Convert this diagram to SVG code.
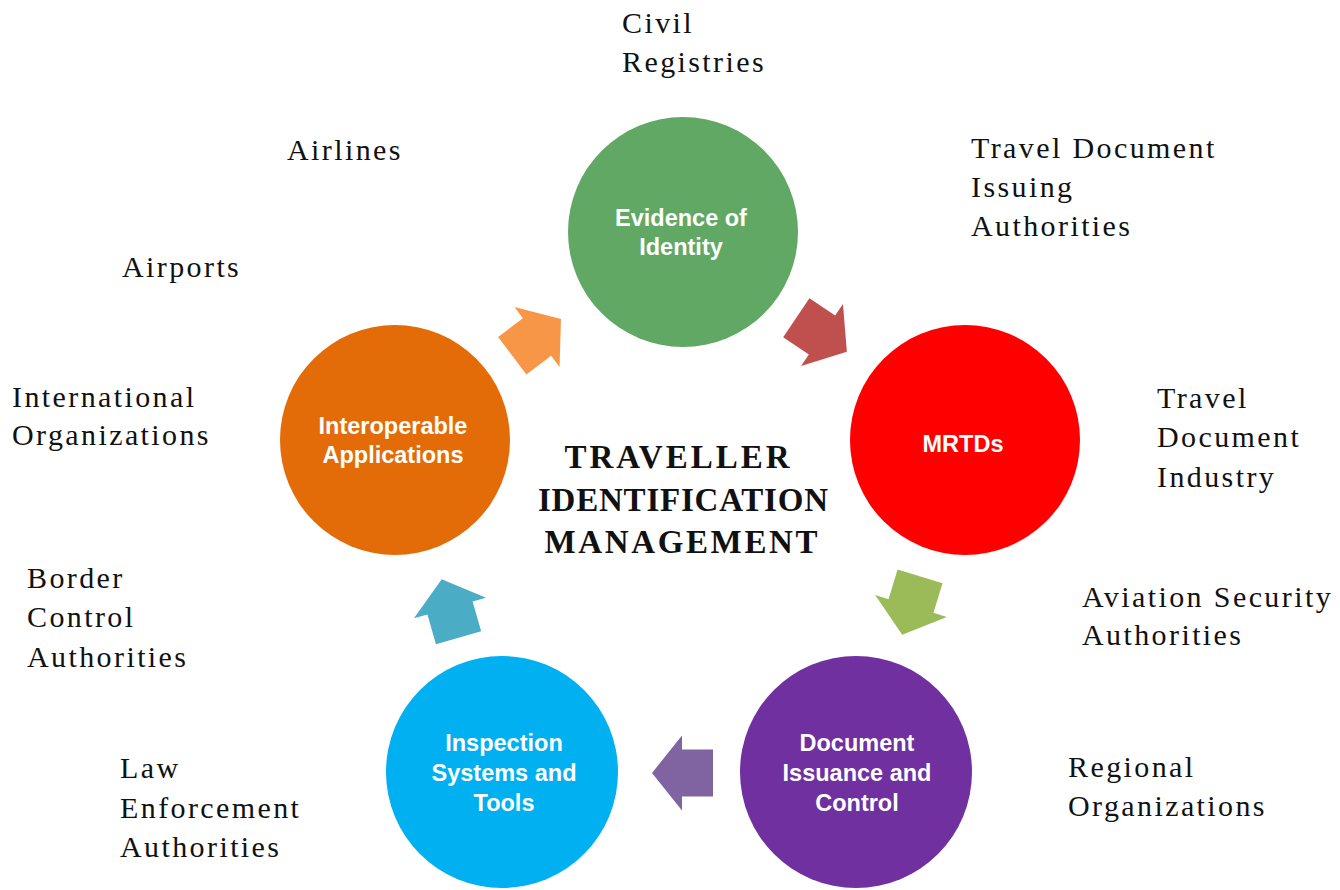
<svg xmlns="http://www.w3.org/2000/svg" width="1340" height="890" viewBox="0 0 1340 890">
<style>
.lbl{font-family:"Liberation Serif","Times New Roman",serif;font-size:30px;letter-spacing:2.4px;fill:#111}
.ct{font-family:"Liberation Sans",Arial,sans-serif;font-size:23.5px;font-weight:bold;fill:#fff;text-anchor:middle}
.title{font-family:"Liberation Serif","Times New Roman",serif;font-size:33px;font-weight:bold;fill:#111;text-anchor:middle}
</style>
<defs>
<path id="arr" d="M30,0 L0,-37.5 L0,-23.5 L-31,-23.5 L-31,23.5 L0,23.5 L0,37.5 Z"/>
</defs>
<rect width="1340" height="890" fill="#fff"/>
<g id="connectors">
<use href="#arr" fill="#F79646" transform="translate(537,337) rotate(-37)"/>
<use href="#arr" fill="#C0504D" transform="translate(822,335) rotate(34)"/>
<use href="#arr" fill="#9BBB59" transform="translate(911,606) rotate(107)"/>
<use href="#arr" fill="#8064A2" transform="translate(682,773) rotate(180)"/>
<use href="#arr" fill="#4BACC6" transform="translate(450,608) rotate(-106)"/>
</g>
<g id="evidence">
<circle cx="683" cy="232" r="115" fill="#62A865"/>
<text class="ct" x="681" y="226">Evidence of</text>
<text class="ct" x="681" y="255">Identity</text>
</g>
<g id="mrtds">
<circle cx="965" cy="440" r="115" fill="#FF0000"/>
<text class="ct" x="963" y="452">MRTDs</text>
</g>
<g id="issuance">
<circle cx="856" cy="772" r="116" fill="#7030A0"/>
<text class="ct" x="857" y="751">Document</text>
<text class="ct" x="857" y="781">Issuance and</text>
<text class="ct" x="857" y="811">Control</text>
</g>
<g id="inspection">
<circle cx="502" cy="772" r="116" fill="#00B0F0"/>
<text class="ct" x="504" y="751">Inspection</text>
<text class="ct" x="504" y="781">Systems and</text>
<text class="ct" x="504" y="811">Tools</text>
</g>
<g id="interop">
<circle cx="395" cy="440" r="115" fill="#E36C09"/>
<text class="ct" x="393" y="434">Interoperable</text>
<text class="ct" x="393" y="463">Applications</text>
</g>
<g id="title">
<text class="title" x="677" y="468" textLength="225" lengthAdjust="spacing">TRAVELLER</text>
<text class="title" x="683" y="511" textLength="290" lengthAdjust="spacing">IDENTIFICATION</text>
<text class="title" x="681" y="553" textLength="273" lengthAdjust="spacing">MANAGEMENT</text>
</g>
<g id="labels">
<text class="lbl" x="622" y="33">Civil</text>
<text class="lbl" x="622" y="72">Registries</text>
<text class="lbl" x="287" y="160">Airlines</text>
<text class="lbl" x="971" y="158">Travel Document</text>
<text class="lbl" x="971" y="197">Issuing</text>
<text class="lbl" x="971" y="236">Authorities</text>
<text class="lbl" x="122" y="277">Airports</text>
<text class="lbl" x="12" y="407">International</text>
<text class="lbl" x="12" y="445">Organizations</text>
<text class="lbl" x="1157" y="408">Travel</text>
<text class="lbl" x="1157" y="447">Document</text>
<text class="lbl" x="1157" y="487">Industry</text>
<text class="lbl" x="27" y="588">Border</text>
<text class="lbl" x="27" y="627">Control</text>
<text class="lbl" x="27" y="667">Authorities</text>
<text class="lbl" x="1082" y="607">Aviation Security</text>
<text class="lbl" x="1082" y="645">Authorities</text>
<text class="lbl" x="120" y="778">Law</text>
<text class="lbl" x="120" y="818">Enforcement</text>
<text class="lbl" x="120" y="857">Authorities</text>
<text class="lbl" x="1068" y="777">Regional</text>
<text class="lbl" x="1068" y="816">Organizations</text>
</g>
</svg>
